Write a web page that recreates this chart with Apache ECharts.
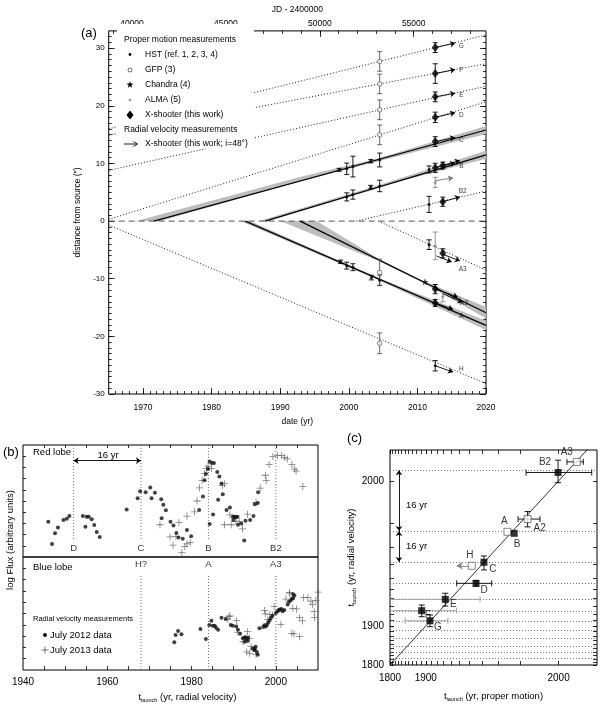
<!DOCTYPE html>
<html><head><meta charset="utf-8">
<script src="https://cdn.jsdelivr.net/npm/echarts@6/dist/echarts.min.js"></script>
<style>html,body{margin:0;padding:0;background:#fff}#c{width:600px;height:706px}</style>
</head><body><div id="c"></div>
<script>
// ================= DATA =================
// Panel (a) axis ticks
const yearTicksA = [1970, 1980, 1990, 2000, 2010, 2020];
const jdTicks = [40000, 45000, 50000, 55000];
const distTicks = [-30, -20, -10, 0, 10, 20, 30];

// extrapolated knot trajectories (dotted)
const dottedKnots = ['G', 'F', 'E', 'D', 'B2', 'A3', 'H'];
const dottedStart = [[1965, 16.0], [1965, 14.9], [1965, 8.8], [1965, 0.3], [2001.1, 0], [2004.3, 0], [1965, -0.7]];
const dottedEnd = [[2020, 32.3], [2020, 27.3], [2020, 23.4], [2020, 20.7], [2020, 5.2], [2020, -8.5], [2020, -28.2]];

// fitted trajectories (solid) and their uncertainty bands
const fitKnots = ['C', 'B', 'A', 'A2'];
const fitStart = [[1971.6, 0], [1987.8, 0], [1984.9, 0], [1992.9, 0]];
const fitEnd = [[2020, 15.8], [2020, 11.5], [2020, -18.1], [2020, -15.9]];
const bandC = [[1969, 0], [1993, 7.7], [2004, 10.8], [2020, 16.5], [2020, 15.1], [2004, 10.3], [1993, 6.9], [1972.5, 0]];
const bandB = [[1986.9, 0], [2004.5, 6.3], [2020, 12.2], [2020, 10.8], [2004.5, 6.0], [1988.3, 0]];
const bandA = [[1985.6, 0], [2004.5, -9.95], [2020, -17.3], [2020, -18.9], [2004.5, -10.35], [1984.2, 0]];
const bandA2 = [[1995.3, 0], [2004.5, -6.6], [2011, -10.45], [2020, -14.9], [2020, -16.9], [2011, -10.8], [2004.5, -7.0], [1990, 0]];

// proper-motion measurements
const hstT = [1998.6, 1999.7, 2000.6, 2003.2, 2004.5, 1999.7, 2000.6, 2003.2, 2004.5, 2011.7, 2011.7, 1998.8, 1999.7, 2000.6, 2003.3, 2004.5, 2011.7, 2012.6];
const hstD = [8.9, 9.07, 9.46, 10.4, 10.6, 4.2, 4.6, 5.9, 6.1, 8.96, 2.9, -7.06, -7.73, -8.0, -9.8, -10.25, -4.09, -25.1];
const hstErr = [0.25, 1.0, 1.8, 0.3, 1.2, 0.7, 0.8, 0.3, 1.0, 0.6, 1.4, 0.3, 0.6, 0.6, 0.4, 0.9, 0.84, 0.9];
const gfpT = [2004.5, 2004.5, 2004.5, 2004.5, 2004.5, 2004.5];
const gfpD = [27.7, 23.8, 19.3, 14.96, -21.2, -8.9];
const gfpErr = [1.7, 1.7, 1.7, 1.7, 1.8, 2.3];
const chandraT = [2011.1];
const chandraD = [-10.54];
const almaT = [2012.6, 2012.6, 2013.7];
const almaD = [6.7, -4.3, -13.1];
const almaErr = [0.9, 2.4, 0.9];
const xsT = [2012.6, 2012.6, 2012.6, 2012.6, 2012.6, 2012.6, 2013.7, 2013.7, 2013.7, 2012.6, 2012.6];
const xsD = [30.1, 25.6, 21.56, 18.0, 13.8, 9.24, 9.63, 3.36, -5.6, -11.8, -14.2];
const xsErr = [0.85, 1.7, 0.85, 0.9, 0.85, 0.8, 0.6, 0.8, 0.8, 0.8, 0.6];

// radial-velocity arrows (X-shooter)
const rvFrom = [[2012.6, 30.1], [2012.6, 25.6], [2012.6, 21.56], [2012.6, 18.0], [2012.6, 13.8], [2012.6, 9.3], [2013.7, 9.63], [2013.7, 3.36], [2012.8, -6.05], [2013.7, -5.76], [2012.6, -11.8], [2013.7, -12.6], [2012.6, -14.2], [2012.6, -25.1]];
const rvTo = [[2015.5, 30.9], [2015.5, 26.3], [2015.5, 22.2], [2015.5, 18.8], [2015.5, 14.5], [2015.5, 10.1], [2016.2, 10.5], [2016.2, 4.2], [2015.0, -7.1], [2016.2, -6.9], [2015.9, -13.2], [2016.6, -14.1], [2015.2, -15.3], [2015.2, -26.2]];
const rvGrayFrom = [[2012.6, 7.0]];
const rvGrayTo = [[2015.2, 7.5]];

const knotLblA = ['G', 'F', 'E', 'D', 'C', 'B', 'B2', 'A3', 'A2', 'A', 'H'];
const knotLblAT = [2016.4, 2016.4, 2016.4, 2016.4, 2016.4, 2016.4, 2016.6, 2016.6, 2016.8, 2016.4, 2016.4];
const knotLblAD = [30.4, 26.2, 21.8, 18.3, 14.1, 9.6, 5.2, -8.4, -14.3, -16.5, -25.7];

// Panel (b): launch epochs and launch-time distributions
const bTicks = [1940, 1960, 1980, 2000];
const bEpochs = [1952, 1968, 1984, 2000];
const redEpochLbl = ['D', 'C', 'B', 'B2'];
const blueEpochLbl = ['', 'H?', 'A', 'A3'];
const redDots = [[1946,3.15],[1946.9,1.15],[1947.6,2.12],[1948.3,2.64],[1949.6,3.3],[1950.4,3.42],[1951,3.67],
 [1954.2,3.67],[1954.8,2.7],[1955.1,3.6],[1955.6,3.6],[1956.3,3.36],[1956.9,2.85],[1957.5,2.24],[1958.2,1.79],
 [1964.6,4.24],[1967.2,5.24],[1967.8,5.88],[1969.1,5.79],[1970.2,6.21],[1970.5,5.24],[1971.3,5.73],[1972.8,5.15],[1973.3,4.67],[1973.9,4.18],[1972.9,3.45],
 [1975,3.15],[1975.7,2.82],[1976.4,2.15],[1976.9,1.73],[1977.9,1.64],[1978.9,2.42],[1979.9,1.85],
 [1981.8,4.2],[1982.7,5.4],[1983.1,6.85],[1983.4,7.42],[1983.9,7.85],[1984.3,8.52],[1984.8,8.4],[1985.3,8.4],
 [1984.3,2.94],[1985.1,3.79],[1986.1,7.6],[1986.6,7.18],[1986.3,5.12],[1987.1,6.57],[1987.4,5.6],[1988.3,4.2],[1989.1,4.42],
 [1989.8,3.6],[1990.2,3.6],[1990.5,3.55],[1990.9,3.6],[1989.9,3.3],[1991,2.88],[1991.8,3.0],[1992.5,1.48],[1992.8,3.24],
 [1993.9,3.3],[1994.7,3.67],[1995,4.7],[1995.7,4.82],[1995.8,5.79]];
const redCross = [[1972.5,2.88],[1974.9,1.79],[1975.6,1.06],[1976.3,1.82],[1977,3.09],[1977.7,0.39],[1978.4,0.94],[1978.9,1.18],
 [1979.7,1.3],[1978.9,3.64],[1980.7,4.03],[1981.3,5.0],[1981.9,6.18],[1982.5,6.85],[1983.1,7.45],[1983.5,7.9],[1983.9,8.12],
 [1984.7,7.9],[1987.3,6.39],[1987.8,6.55],[1987.8,2.88],[1989.1,3.76],[1989.4,2.88],[1990.5,3.21],[1991.3,3.15],[1992.1,2.52],
 [1993.3,3.82],[1995.3,4.88],[1996.3,6.15],[1997.5,7.3],[1997.7,6.82],[1998.4,8.27],[1999.3,8.97],[2000.4,9.06],[2001.4,9.06],
 [2002,8.9],[2002.7,8.76],[2003.8,8.27],[2004.4,7.85],[2004.8,7.67],[2006.4,6.3]];
const blueDots = [[1975.9,2.45],[1976.2,3.1],[1976.8,3.45],[1977.6,3.16],[1982.1,3.63],[1983.4,2.74],[1984.2,3.98],[1984.7,4.36],
 [1985,3.92],[1985.5,3.92],[1985.8,3.74],[1986.3,3.57],[1987.1,4.63],[1988.1,4.51],[1989.3,3.98],[1989.8,3.92],[1990.6,3.86],
 [1991,3.57],[1991.5,3.21],[1992.2,2.8],[1992.5,2.85],[1992.8,2.9],[1993.1,2.75],[1993.4,2.85],[1992.6,2.5],[1993.3,2.56],
 [1994.5,1.9],[1994.9,1.75],[1995.2,2.05],[1995.5,1.6],[1995.7,1.35],[1995,1.85],[1996.1,3.69],[1997,3.8],[1997.3,3.95],
 [1997.6,3.85],[1997.9,4.0],[1998.2,4.2],[1998.5,4.4],[1998.8,4.6],[1999.2,4.8],[2000,5.05],[2000.4,5.2],[2000.7,5.3],
 [2001,5.35],[2001.3,5.4],[2001.6,5.2],[2002,5.3],[2002.8,5.8],[2003.1,6.05],[2003.5,6.15],[2003.8,6.3],[2004.1,6.35],[2004.1,6.7],[2004.4,6.6]];
const blueCross = [[1988.6,4.51],[1988.9,4.72],[1989.1,4.78],[1990.7,4.36],[1991,3.33],[1992.2,2.5],[1993.3,3.39],[1993.7,2.8],
 [1993.8,1.48],[1993.1,1.6],[1994.1,2.06],[1995.3,1.39],[1997.3,5.28],[1997.5,4.96],[1998.1,4.45],[1998.6,4.93],[1999.2,4.87],
 [1999.6,5.6],[2001.2,4.04],[2002.4,6.28],[2003.2,6.8],[2003.3,6.84],[2003.8,3.25],[2004,5.46],[2004.3,3.19],[2004.9,5.4],
 [2005.6,4.63],[2005.6,2.95],[2006.3,4.34],[2006.6,6.4],[2007.6,6.4],[2008.3,6.1],[2008.7,5.81],[2009.1,5.16],[2009.2,4.63],
 [2009.5,6.17],[2010,6.9]];

// Panel (c): launch times, proper motion vs radial velocity
const cTicks = [1800, 1900, 2000];
const knotsC = ['A3', 'B2', 'A2', 'A', 'B', 'H', 'C', 'D', 'E', 'F', 'G'];
const pmLaunch = [2002.8, 1999.9, 1992.5, 1984.8, 1987.7, 1962, 1971.5, 1965.6, 1932.6, 1891.5, 1908];
const rvLaunch = [2002.7, 2001.3, 1991.2, 1986.8, 1986.2, 1969.3, 1971.6, 1955.6, 1939.1, 1924.5, 1909];
const pmLo = [2001.4, 1992, 1989.2, null, null, null, null, 1947, 1800, 1800, 1850];
const pmHi = [2003.6, 2004.5, 1996, null, null, null, null, 1976.5, 1968.7, 1947, 1936.3];
const rvLo = [null, 1999.7, 1988.6, null, null, null, 1966.4, 1953, 1930.7, 1915.6, 1898.5];
const rvHi = [null, 2002.9, 1993.4, null, null, null, 1975.4, 1957.9, 1945.9, 1932.1, 1918.2];
const openSym = [true, false, true, true, false, true, false, false, false, false, false];
const pmGray = [false, false, false, false, false, false, false, false, true, true, true];
const hLimitTo = 1947;
const cycleLines = [2001.6, 1987.1, 1971.7, 1955.8, 1939.5, 1923.9, 1908.6, 1891, 1874, 1856, 1840, 1823];

// ================= HELPERS =================
const FONT = '"Liberation Sans", Arial, Helvetica, sans-serif';
const T0 = 2010;
const u = t => -Math.log(T0 - t);
const jd = t => 51544.5 + (t - 2000) * 365.25;
const plain = v => String(Math.round(v));
function range(a, b, s) { const r = []; for (let v = a; v <= b + 1e-9; v += s) r.push(+v.toFixed(6)); return r; }
const zip = (a, b) => a.map((v, i) => [v, b[i]]);
const errData = (t, d, e) => t.map((v, i) => [v, d[i], d[i] - e[i], d[i] + e[i]]);

const xAxes = [], yAxes = [];
function base(o) {
  return Object.assign({ type: 'value', splitLine: { show: false }, axisLine: { show: false, onZero: false },
    axisLabel: { show: false }, axisTick: { show: false }, axisPointer: { show: false } }, o);
}
function tick(vals, len) { return { show: true, inside: true, length: len, customValues: vals, lineStyle: { color: '#000', width: 0.8 } }; }
function addX(o) { xAxes.push(base(o)); return xAxes.length - 1; }
function addY(o) { yAxes.push(base(o)); return yAxes.length - 1; }

// panel (a) axes
const xa = addX({ gridIndex: 0, min: 1965, max: 2020, position: 'bottom', axisTick: tick(yearTicksA, 6),
  axisLabel: { show: true, customValues: yearTicksA, formatter: plain, fontSize: 8.5, color: '#000', margin: 9 },
  name: 'date (yr)', nameLocation: 'middle', nameGap: 23, nameTextStyle: { fontSize: 8.5, color: '#000' } });
addX({ gridIndex: 0, min: 1965, max: 2020, position: 'bottom', axisTick: tick(range(1966, 2019, 1), 3) });
addX({ gridIndex: 0, min: jd(1965), max: jd(2020), position: 'top', axisTick: tick(jdTicks, 6),
  axisLabel: { show: true, customValues: jdTicks, formatter: plain, fontSize: 8.5, color: '#000', margin: 3 },
  name: 'JD - 2400000', nameLocation: 'middle', nameGap: 15, nameTextStyle: { fontSize: 8.5, color: '#000' } });
addX({ gridIndex: 0, min: jd(1965), max: jd(2020), position: 'top', axisTick: tick(range(39000, 58000, 1000), 3) });
const ya = addY({ gridIndex: 0, min: -30, max: 33, position: 'left', axisTick: tick(distTicks, 6),
  axisLabel: { show: true, customValues: distTicks, formatter: plain, fontSize: 8, color: '#000', margin: 4 },
  name: 'distance from source (\u2033)', nameLocation: 'middle', nameGap: 20, nameTextStyle: { fontSize: 8.5, color: '#000' } });
addY({ gridIndex: 0, min: -30, max: 33, position: 'left', axisTick: tick(range(-29, 32, 1), 3) });
addY({ gridIndex: 0, min: -30, max: 33, position: 'right', axisTick: tick(distTicks, 6) });
addY({ gridIndex: 0, min: -30, max: 33, position: 'right', axisTick: tick(range(-29, 32, 1), 3) });

// panel (b) axes
const subStyle = (fs) => ({ fontSize: fs, color: '#000', rich: { t: { fontSize: fs, lineHeight: 12 }, s: { fontSize: 5.5, lineHeight: 12, verticalAlign: 'bottom' }, n: { fontSize: fs, lineHeight: 12 } } });
const xbr = addX({ gridIndex: 1, min: 1940, max: 2010, position: 'top', axisTick: tick(range(1945, 2005, 5), 3) });
const ybr = addY({ gridIndex: 1, min: 0, max: 10, position: 'left', axisTick: tick(range(1, 9, 1), 3) });
const xbb = addX({ gridIndex: 2, min: 1940, max: 2010, position: 'bottom', axisTick: tick(range(1945, 2005, 5), 4),
  axisLabel: { show: true, customValues: bTicks, formatter: plain, fontSize: 10, color: '#000', margin: 7 },
  name: '{t|t}{s|launch}{n| (yr, radial velocity)}', nameLocation: 'middle', nameGap: 21,
  nameTextStyle: Object.assign(subStyle(9.5), { padding: [0, 0, 0, 34] }) });
const ybb = addY({ gridIndex: 2, min: 0, max: 10, position: 'left', axisTick: tick(range(1, 9, 1), 3) });

// panel (c) axes (log of time before T0)
const cMinor = range(1810, 1990, 10).map(u);
const cMajor = cTicks.map(u);
const yearFmt = v => String(Math.round(T0 - Math.exp(-v)));
const xc = addX({ gridIndex: 3, min: u(1800), max: u(2005), position: 'bottom', axisTick: tick(cMajor.concat(cMinor), 4),
  axisLabel: { show: true, customValues: cMajor, formatter: yearFmt, fontSize: 10, color: '#000', margin: 8 },
  name: '{t|t}{s|launch}{n| (yr, proper motion)}', nameLocation: 'middle', nameGap: 25, nameTextStyle: subStyle(9.5) });
addX({ gridIndex: 3, min: u(1800), max: u(2005), position: 'top', axisTick: tick(cMajor.concat(cMinor), 4) });
const yc = addY({ gridIndex: 3, min: u(1800), max: u(2004), position: 'left', axisTick: tick(cMajor.concat(cMinor), 4),
  axisLabel: { show: true, customValues: cMajor, formatter: yearFmt, fontSize: 10, color: '#000', margin: 6 },
  name: '{t|t}{s|launch}{n| (yr, radial velocity)}', nameLocation: 'middle', nameGap: 33, nameRotate: 90, nameTextStyle: subStyle(9.5) });
addY({ gridIndex: 3, min: u(1800), max: u(2004), position: 'right', axisTick: tick(cMajor.concat(cMinor), 4) });

// series helpers
const series = [];
function line2(xi, yi, pts, ls, z) { return { type: 'line', xAxisIndex: xi, yAxisIndex: yi, data: pts, symbol: 'none', silent: true, z: z || 2, lineStyle: ls, clip: true }; }
function arrows(xi, yi, from, to, color, both, size) {
  return { type: 'lines', coordinateSystem: 'cartesian2d', xAxisIndex: xi, yAxisIndex: yi, data: from.map((f, i) => ({ coords: [f, to[i]] })),
    symbol: both ? ['arrow', 'arrow'] : ['none', 'arrow'], symbolSize: size || 5, lineStyle: { color: color, width: 0.9, opacity: 1, curveness: 0 }, silent: true, z: 6 };
}
function scatter(xi, yi, pts, sym, size, style, z) { return { type: 'scatter', xAxisIndex: xi, yAxisIndex: yi, data: pts, symbol: sym, symbolSize: size, itemStyle: style, silent: true, z: z || 5 }; }
function labels(xi, yi, pts, texts, fs, offsets) {
  return { type: 'scatter', xAxisIndex: xi, yAxisIndex: yi, symbolSize: 1, itemStyle: { color: 'rgba(0,0,0,0)' }, silent: true, z: 7,
    data: pts.map((p, i) => ({ value: p, label: { show: true, formatter: texts[i], position: 'inside', offset: offsets ? offsets[i] : [0, 0], fontSize: fs, color: '#000' } })) };
}
function errBars(xi, yi, data, color, horiz, cap, z) {
  return { type: 'custom', xAxisIndex: xi, yAxisIndex: yi, clip: true, silent: true, z: z || 4, data: data, encode: { x: 0, y: 1 },
    renderItem: (p, api) => {
      const x = api.value(0), y = api.value(1), lo = api.value(2), hi = api.value(3);
      const a = horiz ? api.coord([lo, y]) : api.coord([x, lo]);
      const b = horiz ? api.coord([hi, y]) : api.coord([x, hi]);
      const st = { stroke: color, lineWidth: 0.9 };
      const ch = [{ type: 'line', shape: { x1: a[0], y1: a[1], x2: b[0], y2: b[1] }, style: st }];
      if (cap > 0) {
        if (horiz) {
          ch.push({ type: 'line', shape: { x1: a[0], y1: a[1] - cap, x2: a[0], y2: a[1] + cap }, style: st });
          ch.push({ type: 'line', shape: { x1: b[0], y1: b[1] - cap, x2: b[0], y2: b[1] + cap }, style: st });
        } else {
          ch.push({ type: 'line', shape: { x1: a[0] - cap, y1: a[1], x2: a[0] + cap, y2: a[1] }, style: st });
          ch.push({ type: 'line', shape: { x1: b[0] - cap, y1: b[1], x2: b[0] + cap, y2: b[1] }, style: st });
        }
      }
      return { type: 'group', children: ch };
    } };
}
function poly(xi, yi, pts, color) {
  return { type: 'custom', xAxisIndex: xi, yAxisIndex: yi, clip: true, silent: true, z: 1, data: [pts[0]], encode: { x: 0, y: 1 },
    renderItem: (p, api) => ({ type: 'polygon', shape: { points: pts.map(q => api.coord(q)) }, style: { fill: color } }) };
}
const STAR = 'path://M50,0L61.2,34.5L97.6,34.5L68.2,55.9L79.4,90.5L50,69.1L20.6,90.5L31.8,55.9L2.4,34.5L38.8,34.5Z';
const PLUS = 'path://M4,0h1v4h4v1h-4v4h-1v-4h-4v-1h4z';

// ---------- panel (a) series ----------
[bandC, bandB, bandA, bandA2].forEach(b => series.push(poly(xa, ya, b, '#bdbdbd')));
dottedStart.forEach((s, i) => series.push(line2(xa, ya, [s, dottedEnd[i]], { type: [1, 2], width: 0.9, color: '#000' })));
series.push(line2(xa, ya, [[1965, 0], [2020, 0]], { type: [6, 4], width: 1, color: '#555' }));
fitStart.forEach((s, i) => series.push(line2(xa, ya, [s, fitEnd[i]], { type: 'solid', width: 1.2, color: '#000' }, 3)));
series.push(errBars(xa, ya, errData(hstT, hstD, hstErr), '#000', false, 2.5));
series.push(errBars(xa, ya, errData(gfpT, gfpD, gfpErr), '#555', false, 2.5));
series.push(errBars(xa, ya, errData(almaT, almaD, almaErr), '#888', false, 2.5));
series.push(errBars(xa, ya, errData(xsT, xsD, xsErr), '#000', false, 2.5));
series.push(scatter(xa, ya, zip(hstT, hstD), 'circle', 3, { color: '#000' }));
series.push(scatter(xa, ya, zip(gfpT, gfpD), 'circle', 4.5, { color: '#fff', borderColor: '#444', borderWidth: 0.8 }));
series.push(scatter(xa, ya, zip(almaT, almaD), 'circle', 3, { color: '#888' }));
series.push(scatter(xa, ya, zip(chandraT, chandraD), STAR, 7, { color: '#000' }));
series.push(scatter(xa, ya, zip(xsT, xsD), 'diamond', [7, 9], { color: '#000' }));
series.push(arrows(xa, ya, rvFrom, rvTo, '#000'));
series.push(arrows(xa, ya, rvGrayFrom, rvGrayTo, '#777'));
series.push(labels(xa, ya, zip(knotLblAT, knotLblAD), knotLblA, 6.5));

// ---------- panel (b) series ----------
bEpochs.forEach(t => series.push(line2(xbr, ybr, [[t, 1.6], [t, 10]], { type: [1, 2], width: 0.8, color: '#444' })));
bEpochs.forEach((t, i) => { if (blueEpochLbl[i]) series.push(line2(xbb, ybb, [[t, 0], [t, 8.5]], { type: [1, 2], width: 0.8, color: '#444' })); });
series.push(labels(xbr, ybr, bEpochs.map(t => [t, 0.8]), redEpochLbl, 9.5));
series.push(labels(xbb, ybb, bEpochs.map(t => [t, 9.35]), blueEpochLbl, 9.5));
series.push(arrows(xbr, ybr, [[bEpochs[0], 8.6]], [[bEpochs[1], 8.6]], '#000', true, 5));
series.push(scatter(xbr, ybr, redCross, PLUS, 7, { color: '#555' }));
series.push(scatter(xbr, ybr, redDots, 'circle', 4, { color: '#111' }));
series.push(scatter(xbb, ybb, blueCross, PLUS, 7, { color: '#555' }));
series.push(scatter(xbb, ybb, blueDots, 'circle', 4, { color: '#111' }));

// ---------- panel (c) series ----------
series.push({ type: 'lines', coordinateSystem: 'cartesian2d', xAxisIndex: xc, yAxisIndex: yc, silent: true, z: 1,
  data: cycleLines.map(g => ({ coords: [[u(1800), u(g)], [u(2005), u(g)]] })),
  lineStyle: { color: '#555', width: 0.8, type: [1, 2], opacity: 1 } });
series.push(line2(xc, yc, [[u(1800), u(1800)], [u(2005), u(2005)]], { type: 'solid', width: 0.8, color: '#000' }));
const hBars = [], hBarsGray = [], vBars = [];
knotsC.forEach((k, i) => {
  if (pmLo[i] !== null) (pmGray[i] ? hBarsGray : hBars).push([u(pmLaunch[i]), u(rvLaunch[i]), u(pmLo[i]), u(pmHi[i])]);
  if (rvLo[i] !== null) vBars.push([u(pmLaunch[i]), u(rvLaunch[i]), u(rvLo[i]), u(rvHi[i])]);
});
series.push(errBars(xc, yc, hBarsGray, '#999', true, 3));
series.push(errBars(xc, yc, hBars, '#000', true, 3));
series.push(errBars(xc, yc, vBars, '#000', false, 3));
const hIdx = knotsC.indexOf('H');
series.push(arrows(xc, yc, [[u(pmLaunch[hIdx]), u(rvLaunch[hIdx])]], [[u(hLimitTo), u(rvLaunch[hIdx])]], '#888', false, 6));
series.push(arrows(xc, yc, [[u(1831.5), u(cycleLines[1])], [u(1831.5), u(cycleLines[1])]], [[u(1831.5), u(cycleLines[0])], [u(1831.5), u(cycleLines[2])]], '#000', true, 5));
const cLblOffset = { A3: [-10, -10], B2: [-13, -10], A2: [12, 9], A: [-3, -11], B: [3, 11], H: [-2, -11], C: [9, 7], D: [8, 7], E: [8, 5], F: [6, 5], G: [8, 7] };
series.push({ type: 'scatter', xAxisIndex: xc, yAxisIndex: yc, symbol: 'rect', symbolSize: 7, silent: true, z: 6,
  data: knotsC.map((k, i) => ({ value: [u(pmLaunch[i]), u(rvLaunch[i])],
    itemStyle: openSym[i] ? { color: '#fff', borderColor: '#555', borderWidth: 0.9 } : { color: '#000' },
    label: { show: true, formatter: k, position: 'inside', offset: cLblOffset[k], fontSize: 10, color: '#000' } })) });

// ---------- graphics (legends, panel letters, notes) ----------
function starPts(cx, cy, r) { const p = []; for (let i = 0; i < 10; i++) { const a = -Math.PI / 2 + i * Math.PI / 5, rr = i % 2 ? r * 0.42 : r; p.push([cx + rr * Math.cos(a), cy + rr * Math.sin(a)]); } return p; }
const txt = (x, y, s, fs, extra) => Object.assign({ type: 'text', x: x, y: y, z: 101, style: Object.assign({ text: s, fontSize: fs, fill: '#000', fontFamily: FONT, verticalAlign: 'middle' }, extra || {}) });
const graphic = [
  { type: 'rect', z: 100, shape: { x: 117, y: 24, width: 137, height: 125 }, style: { fill: '#fff' } },
  txt(124, 40, 'Proper motion measurements', 8.5),
  { type: 'circle', z: 101, shape: { cx: 130, cy: 54.5, r: 1.4 }, style: { fill: '#000' } },
  txt(145, 54.5, 'HST (ref. 1, 2, 3, 4)', 8.5),
  { type: 'circle', z: 101, shape: { cx: 130, cy: 70, r: 2 }, style: { fill: '#fff', stroke: '#444', lineWidth: 0.8 } },
  txt(145, 70, 'GFP (3)', 8.5),
  { type: 'polygon', z: 101, shape: { points: starPts(130, 84.8, 3.6) }, style: { fill: '#000' } },
  txt(145, 84.5, 'Chandra (4)', 8.5),
  { type: 'circle', z: 101, shape: { cx: 130, cy: 100, r: 1.3 }, style: { fill: '#999' } },
  txt(145, 100, 'ALMA (5)', 8.5),
  { type: 'polygon', z: 101, shape: { points: [[130, 110.5], [133.5, 115], [130, 119.5], [126.5, 115]] }, style: { fill: '#000' } },
  txt(145, 115, 'X-shooter (this work)', 8.5),
  txt(124, 129.5, 'Radial velocity measurements', 8.5),
  { type: 'line', z: 101, shape: { x1: 124, y1: 144, x2: 137, y2: 144 }, style: { stroke: '#000', lineWidth: 0.9 } },
  { type: 'polyline', z: 101, shape: { points: [[133.5, 141.5], [137.5, 144], [133.5, 146.5]] }, style: { stroke: '#000', lineWidth: 0.9, fill: 'none' } },
  txt(145, 144, 'X-shooter (this work; i=48\u00b0)', 8.5),
  txt(81, 33, '(a)', 13),
  txt(3, 452, '(b)', 13),
  txt(347, 438, '(c)', 13),
  txt(33, 452, 'Red lobe', 9.5),
  txt(33, 567, 'Blue lobe', 9.5),
  txt(108, 455, '16 yr', 9.5, { align: 'center' }),
  txt(33, 618.5, 'Radial velocity measurements', 7.5),
  { type: 'circle', z: 101, shape: { cx: 45, cy: 635, r: 2 }, style: { fill: '#111' } },
  txt(50, 635, 'July 2012 data', 9.5),
  { type: 'line', z: 101, shape: { x1: 41.5, y1: 650, x2: 48.5, y2: 650 }, style: { stroke: '#555', lineWidth: 0.8 } },
  { type: 'line', z: 101, shape: { x1: 45, y1: 646.5, x2: 45, y2: 653.5 }, style: { stroke: '#555', lineWidth: 0.8 } },
  txt(50, 650, 'July 2013 data', 9.5),
  { type: 'text', z: 101, x: 10, y: 540, rotation: Math.PI / 2, style: { text: 'log Flux (arbitrary units)', fontSize: 9.5, fill: '#000', fontFamily: FONT, align: 'center', verticalAlign: 'middle' } },
  txt(406, 505, '16 yr', 9.5),
  txt(406, 546, '16 yr', 9.5)
];

const grids = [
  { left: 108.7, top: 22, width: 377.3, height: 372 },
  { left: 23, top: 445, width: 295, height: 112 },
  { left: 23, top: 557, width: 295, height: 113 },
  { left: 390, top: 450, width: 207, height: 215 }
].map(g => Object.assign({ show: true, borderColor: '#000', borderWidth: 1, backgroundColor: 'rgba(0,0,0,0)', containLabel: false }, g));

const chart = echarts.init(document.getElementById('c'), null, { renderer: 'canvas', width: 600, height: 706 });
chart.setOption({
  animation: false,
  backgroundColor: '#fff',
  textStyle: { fontFamily: FONT },
  grid: grids,
  xAxis: xAxes,
  yAxis: yAxes,
  series: series,
  graphic: graphic
});
</script></body></html>
